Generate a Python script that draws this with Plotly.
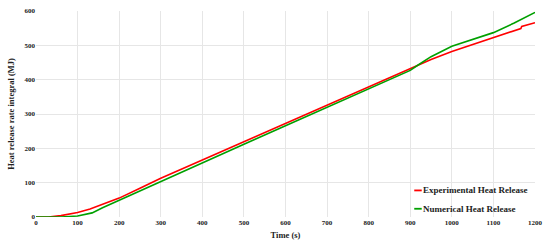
import plotly.graph_objects as go

exp_t = [0, 30, 60, 100, 130, 160, 200, 250, 300, 400, 500, 600, 700, 800, 900, 918, 950, 1000, 1050, 1100, 1166, 1168, 1200]
exp_q = [0, 0, 4, 13, 23, 36, 55, 84, 113, 166, 219, 273, 326, 379, 432, 442, 459, 482, 502, 521, 549, 555, 566]

num_t = [0, 60, 100, 120, 135, 160, 200, 250, 300, 400, 500, 600, 700, 800, 900, 918, 950, 1000, 1050, 1100, 1150, 1200]
num_q = [0, 0, 3, 7, 12, 27, 49, 76, 104, 158, 212, 266, 320, 373, 427, 442, 467, 497, 516, 537, 565, 596]

names = ["Experimental Heat Release", "Numerical Heat Release"]
colors = ["#ff0000", "#00a000"]

font = "Liberation Serif"

fig = go.Figure()
fig.add_trace(go.Scatter(x=exp_t, y=exp_q, mode="lines", name=names[0],
                         line=dict(color=colors[0], width=1.6), showlegend=False))
fig.add_trace(go.Scatter(x=num_t, y=num_q, mode="lines", name=names[1],
                         line=dict(color=colors[1], width=1.6), showlegend=False))

# legend box (white background over gridlines)
fig.add_shape(type="rect", xref="paper", yref="paper", x0=0.755, x1=1.0, y0=0.0, y1=0.155,
              fillcolor="white", line=dict(width=0), layer="between")
for i, (nm, col) in enumerate(zip(names, colors)):
    yy = [0.129, 0.04][i]
    fig.add_shape(type="line", xref="paper", yref="paper", x0=0.758, x1=0.773, y0=yy, y1=yy,
                  line=dict(color=col, width=1.8), layer="above")
    fig.add_annotation(xref="paper", yref="paper", x=0.772, y=yy,
                       xanchor="left", yanchor="middle", showarrow=False,
                       text=nm,
                       font=dict(family=font, size=9, color="#222", weight="bold"))

fig.update_layout(
    width=550, height=249,
    margin=dict(l=36, r=12, t=7, b=32),
    plot_bgcolor="white", paper_bgcolor="white",
    font=dict(family=font, size=8, color="#222"),
    xaxis=dict(range=[0, 1200], dtick=100, showgrid=True, gridcolor="#e6e6e6",
               zeroline=False, showline=False, ticks="",
               tickfont=dict(family=font, size=7, weight="bold"),
               title=dict(text="<b>Time (s)</b>", font=dict(family=font, size=8.5), standoff=6)),
    yaxis=dict(range=[0, 600], dtick=100, showgrid=True, gridcolor="#e6e6e6",
               zeroline=False, showline=False, ticks="",
               tickfont=dict(family=font, size=7, weight="bold"),
               title=dict(text="<b>Heat release rate integral (MJ)</b>", font=dict(family=font, size=8.5), standoff=8)),
)
fig.write_html("out.html")
